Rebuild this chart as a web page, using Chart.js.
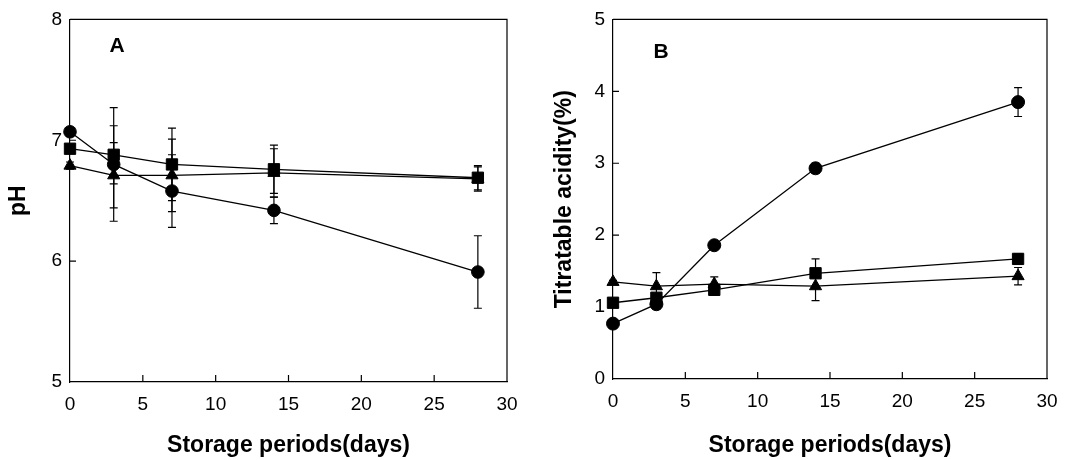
<!DOCTYPE html>
<html>
<head>
<meta charset="utf-8">
<script src="https://cdn.jsdelivr.net/npm/chart.js@4"></script>
<style>
  body { margin: 0; background: #fff; }
  #wrap { position: relative; width: 1081px; height: 460px; }
  canvas { position: absolute; top: 0; }
</style>
</head>
<body>
<div id="wrap">
  <canvas id="chartA" width="540" height="460" style="left:0"></canvas>
  <canvas id="chartB" width="541" height="460" style="left:540px"></canvas>
</div>
<script>
// storage days
var days = [0, 3, 7, 14, 28];
var xTicks = [0, 5, 10, 15, 20, 25, 30];

// panel A - pH
var phCircle = [7.07, 6.80, 6.58, 6.42, 5.91];
var phCircleErr = [0.03, 0.47, 0.30, 0.11, 0.30];
var phSquare = [6.93, 6.88, 6.80, 6.76, 6.69];
var phSquareErr = [0.03, 0.24, 0.30, 0.20, 0.10];
var phTriangle = [6.79, 6.71, 6.71, 6.73, 6.68];
var phTriangleErr = [0.03, 0.27, 0.30, 0.20, 0.10];
var phTicks = [5, 6, 7, 8];

// panel B - titratable acidity
var taCircle = [0.77, 1.04, 1.86, 2.93, 3.85];
var taCircleErr = [0.03, 0.07, 0.04, 0.07, 0.20];
var taSquare = [1.06, 1.13, 1.24, 1.47, 1.67];
var taSquareErr = [0.03, 0.05, 0.07, 0.20, 0.07];
var taTriangle = [1.35, 1.29, 1.32, 1.29, 1.43];
var taTriangleErr = [0.02, 0.19, 0.10, 0.20, 0.12];
var taTicks = [0, 1, 2, 3, 4, 5];

var FONT = "'Liberation Sans', Arial, sans-serif";

function points(ys, errs) {
  return days.map(function (d, i) { return { x: d, y: ys[i], err: errs[i] }; });
}

function series(ys, errs, style, r) {
  return {
    data: points(ys, errs),
    showLine: true,
    borderColor: '#000',
    borderWidth: 1.3,
    backgroundColor: '#000',
    pointBackgroundColor: '#000',
    pointBorderColor: '#000',
    pointStyle: style,
    pointRadius: r,
    pointBorderWidth: 1,
    clip: false
  };
}

// error bars, drawn with the chart scales
var errorBars = {
  id: 'errorBars',
  afterDatasetsDraw: function (chart) {
    var ctx = chart.ctx;
    var xs = chart.scales.x, ys = chart.scales.y;
    ctx.save();
    ctx.strokeStyle = '#000';
    ctx.lineWidth = 1.2;
    chart.data.datasets.forEach(function (ds) {
      ds.data.forEach(function (p) {
        var px = xs.getPixelForValue(p.x);
        var top = ys.getPixelForValue(p.y + p.err);
        var bot = ys.getPixelForValue(p.y - p.err);
        ctx.beginPath();
        ctx.moveTo(px, top); ctx.lineTo(px, bot);
        ctx.moveTo(px - 4, top); ctx.lineTo(px + 4, top);
        ctx.moveTo(px - 4, bot); ctx.lineTo(px + 4, bot);
        ctx.stroke();
      });
    });
    ctx.restore();
  }
};

// frame, inward ticks and panel letter
var frame = {
  id: 'frame',
  afterDraw: function (chart) {
    var ctx = chart.ctx, a = chart.chartArea;
    var xs = chart.scales.x, ys = chart.scales.y;
    ctx.save();
    ctx.strokeStyle = '#000';
    ctx.lineWidth = 1.2;
    ctx.beginPath();
    ctx.moveTo(a.left, a.top); ctx.lineTo(a.right, a.top); ctx.lineTo(a.right, a.bottom);
    xs.ticks.forEach(function (t) {
      var px = xs.getPixelForValue(t.value);
      if (px > a.left + 1 && px < a.right - 1) {
        ctx.moveTo(px, a.bottom); ctx.lineTo(px, a.bottom - 7);
      }
    });
    ys.ticks.forEach(function (t) {
      var py = ys.getPixelForValue(t.value);
      if (py > a.top + 1 && py < a.bottom - 1) {
        ctx.moveTo(a.left, py); ctx.lineTo(a.left + 6, py);
      }
    });
    ctx.stroke();
    var lab = chart.options.plugins.frame;
    ctx.fillStyle = '#000';
    ctx.font = 'bold 21px ' + FONT;
    ctx.textAlign = 'center';
    ctx.textBaseline = 'middle';
    ctx.fillText(lab.text, a.left + lab.dx, a.top + lab.dy);
    ctx.restore();
  }
};

function makeChart(id, datasets, yTicks, yTitle, yWidth, pad, letter) {
  var ymin = yTicks[0], ymax = yTicks[yTicks.length - 1];
  return new Chart(document.getElementById(id), {
    type: 'scatter',
    data: { datasets: datasets },
    plugins: [errorBars, frame],
    options: {
      responsive: false,
      animation: false,
      layout: { padding: pad },
      plugins: {
        legend: { display: false },
        tooltip: { enabled: false },
        frame: letter
      },
      scales: {
        x: {
          type: 'linear',
          min: 0, max: 30,
          afterBuildTicks: function (s) { s.ticks = xTicks.map(function (v) { return { value: v }; }); },
          afterFit: function (s) { s.height = pad.xh; },
          grid: { display: true, drawOnChartArea: false, drawTicks: false },
          border: { display: true, color: '#000', width: 1.2 },
          ticks: { color: '#000', font: { family: FONT, size: 19 }, padding: 11 },
          title: {
            display: true, text: 'Storage periods(days)', color: '#000',
            font: { family: FONT, size: 23, weight: 'bold' }, padding: { top: 1, bottom: 1 }
          }
        },
        y: {
          type: 'linear',
          min: ymin, max: ymax,
          afterBuildTicks: function (s) { s.ticks = yTicks.map(function (v) { return { value: v }; }); },
          afterFit: function (s) { s.width = yWidth; },
          grid: { display: true, drawOnChartArea: false, drawTicks: false },
          border: { display: true, color: '#000', width: 1.2 },
          ticks: { color: '#000', font: { family: FONT, size: 19 }, padding: 8 },
          title: {
            display: true, text: yTitle, color: '#000',
            font: { family: FONT, size: 23, weight: 'bold' }, padding: { top: pad.tp, bottom: pad.tp }
          }
        }
      }
    }
  });
}

makeChart('chartA', [
  series(phSquare, phSquareErr, 'rect', 8),
  series(phTriangle, phTriangleErr, 'triangle', 7),
  series(phCircle, phCircleErr, 'circle', 6.3)
], phTicks, 'pH', 70, { top: 18, right: 33, bottom: 0, left: 0, xh: 78, tp: 5 }, { text: 'A', dx: 47, dy: 27 });

makeChart('chartB', [
  series(taSquare, taSquareErr, 'rect', 8),
  series(taTriangle, taTriangleErr, 'triangle', 7),
  series(taCircle, taCircleErr, 'circle', 6.5)
], taTicks, 'Titratable acidity(%)', 73, { top: 15, right: 34, bottom: 0, left: 0, xh: 81, tp: 11 }, { text: 'B', dx: 48, dy: 33 });
</script>
</body>
</html>
